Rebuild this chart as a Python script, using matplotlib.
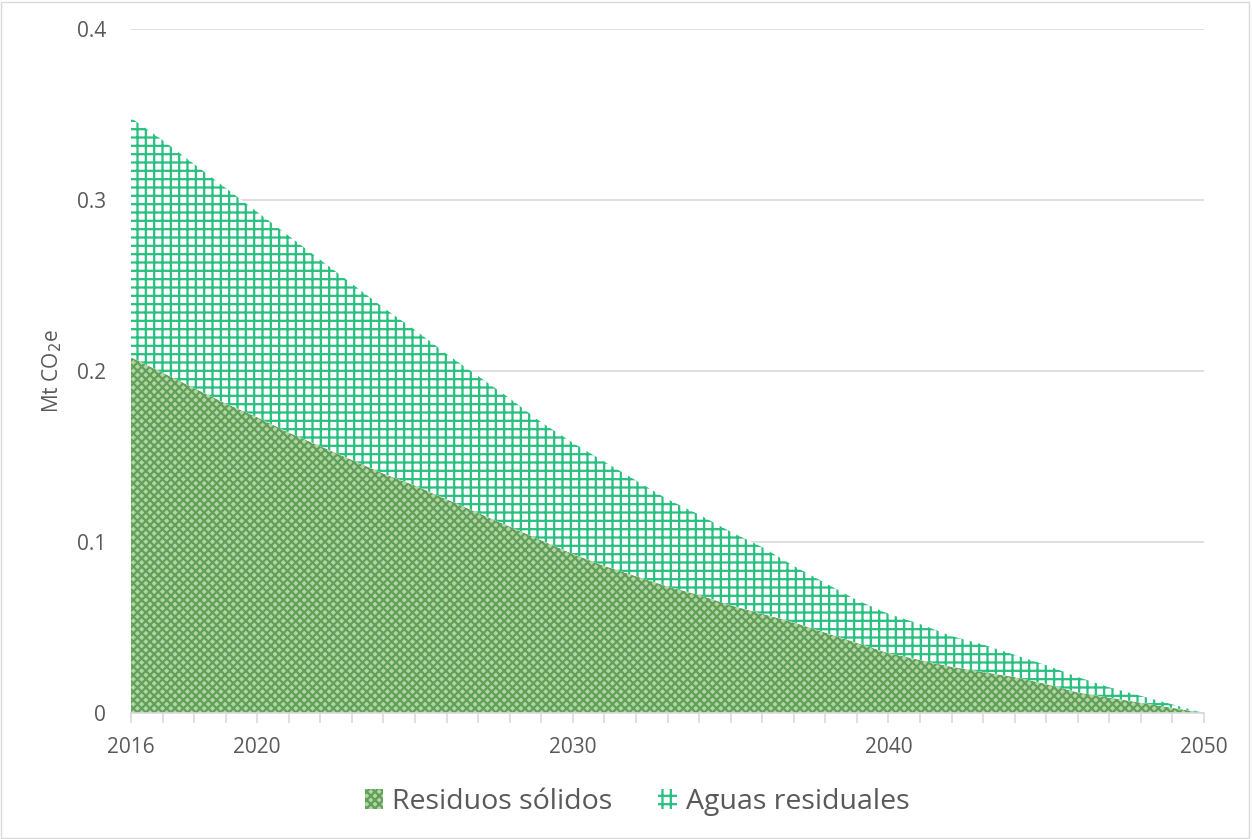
import matplotlib.pyplot as plt
from matplotlib.patches import Rectangle, Patch

years = list(range(2016, 2051))

# Mt CO2e per year
residuos_solidos = [0.208, 0.199, 0.190, 0.181, 0.173, 0.164, 0.156, 0.148, 0.140, 0.133,
                    0.125, 0.117, 0.109, 0.101, 0.093, 0.086, 0.080, 0.074, 0.069, 0.063,
                    0.058, 0.053, 0.047, 0.041, 0.035, 0.031, 0.027, 0.024, 0.021, 0.017,
                    0.012, 0.009, 0.006, 0.003, 0.0]
aguas_residuales = [0.140, 0.136, 0.131, 0.126, 0.120, 0.115, 0.109, 0.103, 0.097, 0.091,
                    0.085, 0.080, 0.075, 0.069, 0.065, 0.061, 0.056, 0.051, 0.047, 0.043,
                    0.039, 0.033, 0.029, 0.025, 0.023, 0.021, 0.018, 0.016, 0.013, 0.011,
                    0.009, 0.006, 0.004, 0.002, 0.0]

xlabels = {2016: "2016", 2020: "2020", 2030: "2030", 2040: "2040", 2050: "2050"}
yticks = [0, 0.1, 0.2, 0.3, 0.4]

grey = "#595959"
green_dark = "#62a058"
green_face = "#b2d5a8"
teal = "#27c07f"

plt.rcParams['font.family'] = ['Open Sans', 'DejaVu Sans']
plt.rcParams['hatch.linewidth'] = 1.6

fig = plt.figure(figsize=(12.52, 8.39), dpi=100)
ax = fig.add_axes([131 / 1252, 1 - 713 / 839, (1204 - 131) / 1252, (713 - 29) / 839])

total = [a + b for a, b in zip(residuos_solidos, aguas_residuales)]

ax.fill_between(years, 0, residuos_solidos, facecolor=green_face, edgecolor=green_dark,
                hatch="xxxx", linewidth=0, zorder=2)
ax.fill_between(years, residuos_solidos, total, facecolor="white", edgecolor=teal,
                hatch="++", linewidth=0, zorder=2)

ax.set_xlim(2016, 2050)
ax.set_ylim(0, 0.4)
ax.set_yticks(yticks)
ax.set_yticklabels(["0", "0.1", "0.2", "0.3", "0.4"])
ax.yaxis.grid(True, color="#d9d9d9", linewidth=1.2, zorder=0)
ax.set_axisbelow(True)

ax.set_xticks(years)
ax.set_xticklabels([xlabels.get(y, "") for y in years])
ax.tick_params(axis="x", length=7, color="#d9d9d9", width=1.2, pad=10,
               labelsize=15, labelcolor=grey)
ax.tick_params(axis="y", length=0, pad=18, labelsize=15, labelcolor=grey)

for s in ["top", "right", "left"]:
    ax.spines[s].set_visible(False)
ax.spines["bottom"].set_color("#d9d9d9")
ax.spines["bottom"].set_linewidth(1.2)

ax.set_ylabel("Mt CO$_2$e", fontsize=15, color=grey, labelpad=9)

handles = [Patch(facecolor=green_face, edgecolor=green_dark, hatch="xxxx", linewidth=0),
           Patch(facecolor="white", edgecolor=teal, hatch="++", linewidth=0)]
fig.legend(handles, ["Residuos sólidos", "Aguas residuales"], loc="center",
           bbox_to_anchor=(637 / 1252, 1 - 802 / 839), ncol=2, frameon=False,
           fontsize=20.5, labelcolor=grey, handlelength=0.65, handleheight=0.65,
           handletextpad=0.32, columnspacing=1.6)

fig.patches.append(Rectangle((0.001, 0.001), 0.997, 0.997, transform=fig.transFigure,
                             fill=False, edgecolor="#d9d9d9", linewidth=1))

fig.savefig("out.png", dpi=100)
